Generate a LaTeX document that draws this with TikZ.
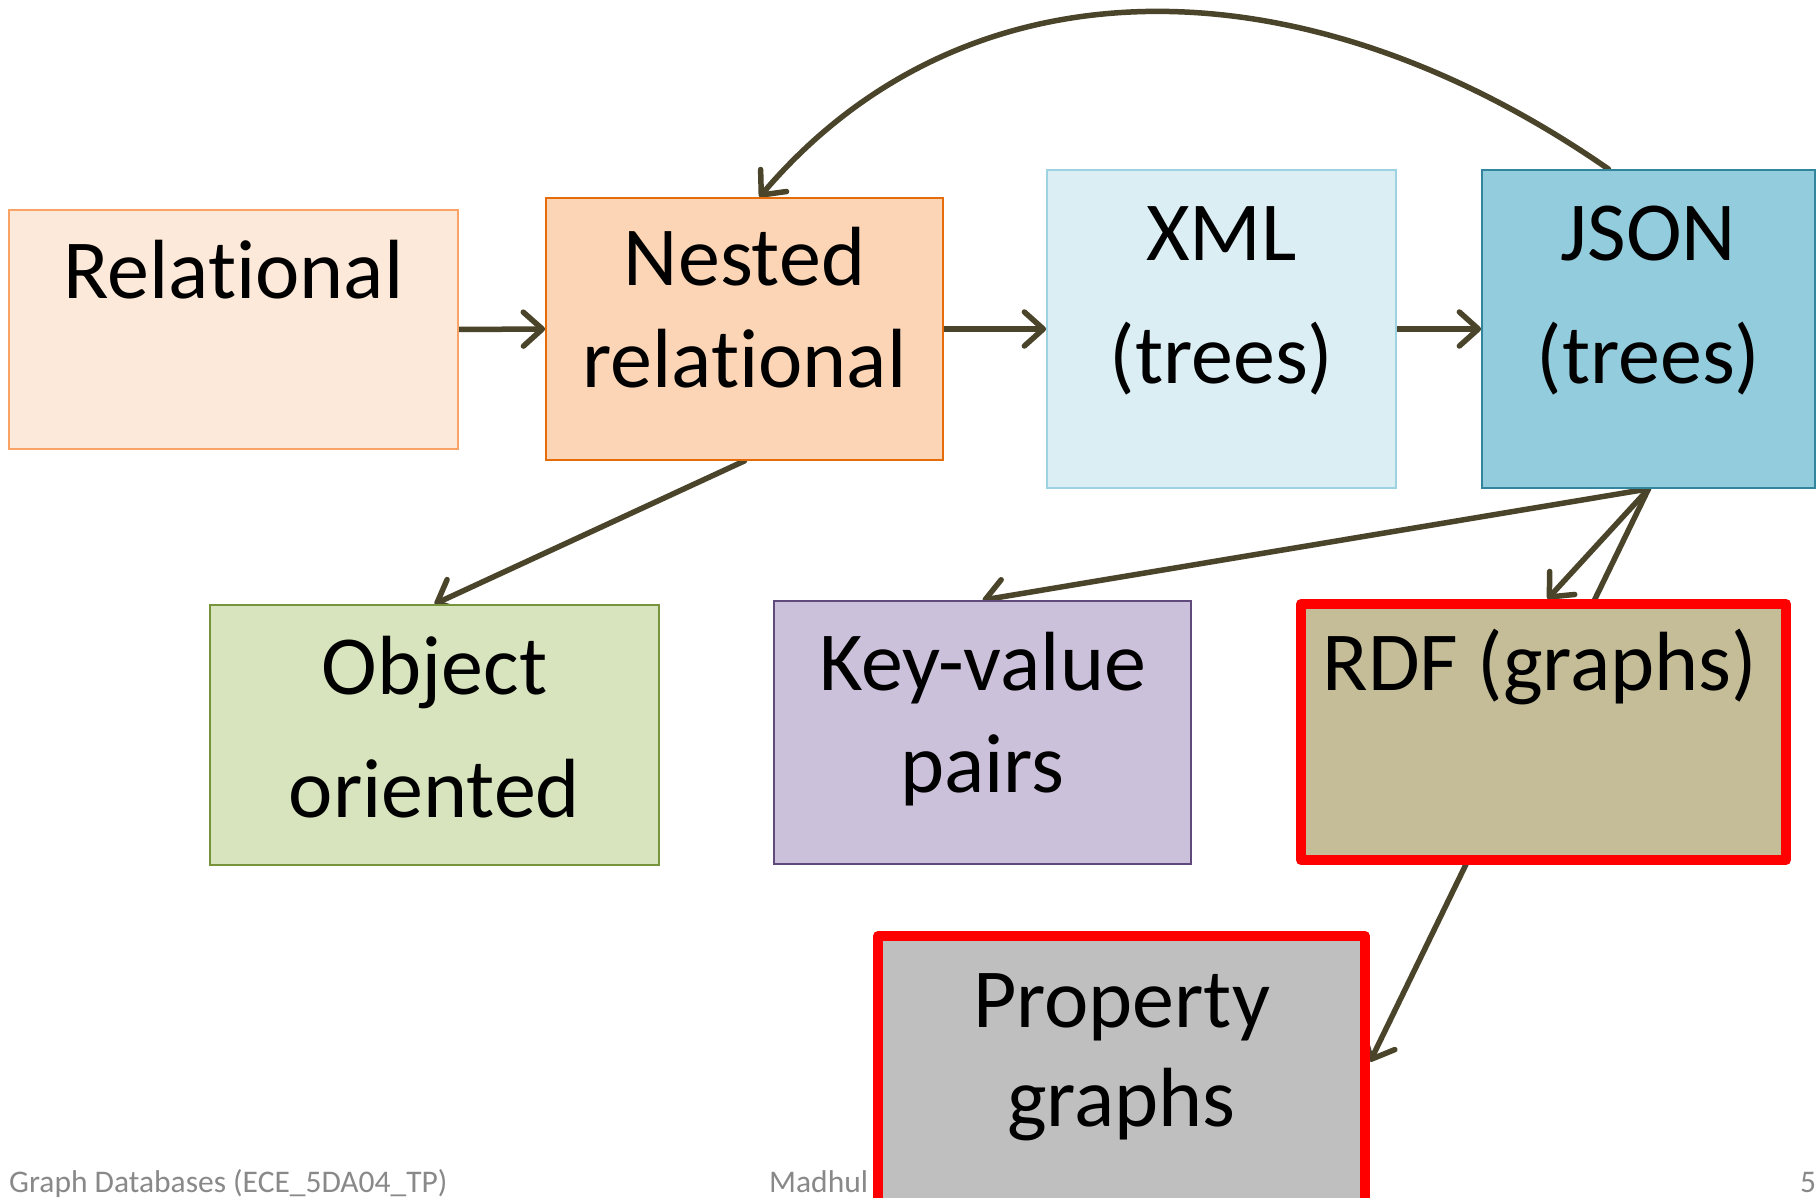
\documentclass[tikz,border=0pt]{standalone}
\usepackage{fontspec}
\setmainfont{Carlito}[RawFeature={-liga;-clig;-calt;-dlig}]
\usetikzlibrary{arrows.meta,calc}
\pgfdeclarelayer{back}
\pgfsetlayers{back,main}

\definecolor{relfill}{HTML}{FDE9D9}
\definecolor{reldraw}{HTML}{F9A466}
\definecolor{nestfill}{HTML}{FBD5B5}
\definecolor{nestdraw}{HTML}{E46C0A}
\definecolor{xmlfill}{HTML}{DBEEF4}
\definecolor{xmldraw}{HTML}{9DD2E2}
\definecolor{jsonfill}{HTML}{93CDDD}
\definecolor{jsondraw}{HTML}{31859C}
\definecolor{objfill}{HTML}{D7E4BD}
\definecolor{objdraw}{HTML}{77933C}
\definecolor{kvfill}{HTML}{CCC1DA}
\definecolor{kvdraw}{HTML}{604A7B}
\definecolor{rdffill}{HTML}{C4BD97}
\definecolor{propfill}{HTML}{BFBFBF}
\definecolor{boxred}{HTML}{FF0000}
\definecolor{linecol}{HTML}{4A452A}
\definecolor{footgray}{HTML}{898989}

\begin{document}
\begin{tikzpicture}[x=1pt,y=-1pt,
  box/.style={rectangle, draw, line width=1.8pt, inner sep=0pt},
  redbox/.style={rectangle, draw=boxred, line width=10pt, line join=round, inner sep=0pt},
  lbl/.style={anchor=base, inner sep=0pt, font=\fontsize{84}{100}\selectfont},
  foot/.style={anchor=base west, inner sep=0pt, text=footgray, font=\fontsize{31.5}{38}\selectfont},
  conn/.style={draw=linecol, line width=5.5pt, line cap=round,
    -{Straight Barb[length=19pt,width=34pt,round]}}]

\useasboundingbox (0,0) rectangle (1818,1198);
\begin{pgfonlayer}{back}
  \fill[white] (0,0) rectangle (1818,1198);
\end{pgfonlayer}

% footer texts, partly covered by the last box
\node[foot] (ft-course) at (9,1192) {Graph Databases (ECE\_5DA04\_TP)};
\node[foot] (ft-author) at (769,1192) {Madhul};
\node[foot] (ft-page) at (1800,1192) {5};

% boxes
\node[box, fill=relfill, draw=reldraw, minimum width=449pt, minimum height=239pt] (rel) at (233.5,329.5) {};
\node[box, fill=nestfill, draw=nestdraw, minimum width=397pt, minimum height=262pt] (nested) at (744.5,329) {};
\node[box, fill=xmlfill, draw=xmldraw, minimum width=349pt, minimum height=318pt] (xml) at (1221.5,329) {};
\node[box, fill=jsonfill, draw=jsondraw, minimum width=333pt, minimum height=318pt] (json) at (1648.5,329) {};
\node[box, fill=objfill, draw=objdraw, minimum width=449pt, minimum height=260pt] (obj) at (434.5,735) {};
\node[box, fill=kvfill, draw=kvdraw, minimum width=417pt, minimum height=263pt] (kv) at (982.5,732.5) {};
\node[redbox, fill=rdffill, minimum width=485pt, minimum height=256pt] (rdf) at (1543.5,732) {};
\node[redbox, fill=propfill, minimum width=487pt, minimum height=294pt] (prop) at (1121.5,1083) {};

% box texts
\node[lbl] (rel-t) at (233.5,299) {Relational};
\node[lbl] (nested-a) at (744.5,286) {Nested};
\node[lbl] (nested-b) at (744.5,387) {relational};
\node[lbl] (xml-a) at (1221.5,261) {XML};
\node[lbl] (xml-b) at (1221.5,383) {(trees)};
\node[lbl] (json-a) at (1648.5,261) {JSON};
\node[lbl] (json-b) at (1648.5,383) {(trees)};
\node[lbl] (obj-a) at (434.5,694) {Object};
\node[lbl] (obj-b) at (434.5,817) {oriented};
\node[lbl] (kv-a) at (982.5,690) {Key-value};
\node[lbl] (kv-b) at (982.5,792) {pairs};
\node[lbl] (rdf-t) at (1540,690) {RDF (graphs)};
\node[lbl] (prop-a) at (1121.5,1027) {Property};
\node[lbl] (prop-b) at (1121.5,1126) {graphs};

% connectors
\begin{pgfonlayer}{back}
  \draw[conn] (rel.east) -- (nested.west);
  \draw[conn] (nested.east) -- (xml.west);
  \draw[conn] (xml.east) -- (json.west);
  \draw[conn] (nested.south) -- (obj.north);
  \draw[conn] (json.south) -- (kv.north);
  \draw[conn] (json.south) -- ($(rdf.north)+(4,0)$);
  \draw[conn] (json.south) -- ($(prop.north east)!0.43!(prop.south east)$);
  \draw[conn] ($(json.north)+(-40,0)$) .. controls (1300,-45) and (965,-45) .. ($(nested.north)+(15,0)$);
\end{pgfonlayer}
\end{tikzpicture}
\end{document}
